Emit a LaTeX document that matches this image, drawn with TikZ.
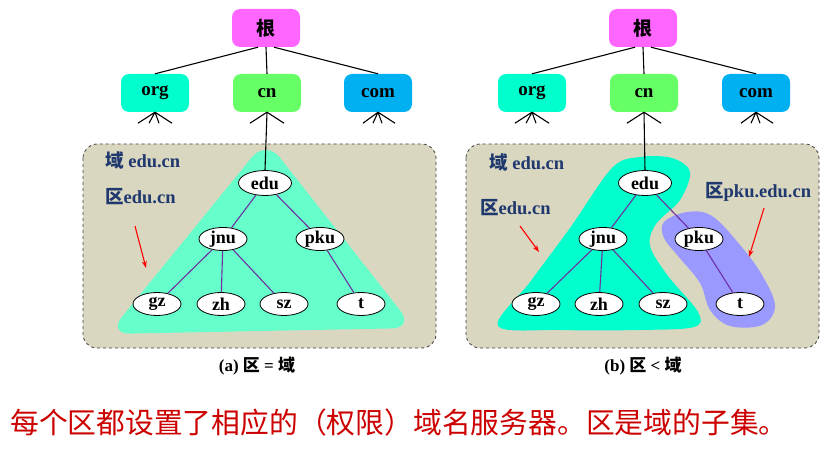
\documentclass[tikz,border=0pt]{standalone}
\usepackage{fontspec}
\setmainfont{Liberation Serif}
\newfontfamily\cjk{Noto Sans CJK SC}
\usetikzlibrary{shapes.geometric,arrows.meta}
\definecolor{rootc}{RGB}{255,102,255}
\definecolor{orgc}{RGB}{0,255,204}
\definecolor{cnc}{RGB}{102,255,102}
\definecolor{comc}{RGB}{0,176,240}
\definecolor{panel}{RGB}{218,215,192}
\definecolor{blobA}{RGB}{102,255,204}
\definecolor{blobB}{RGB}{0,255,204}
\definecolor{blobP}{RGB}{153,153,255}
\definecolor{edgec}{RGB}{112,48,160}
\definecolor{navy}{RGB}{31,56,110}
\definecolor{redt}{RGB}{204,0,0}
\tikzset{
  topbox/.style={rounded corners=8pt, minimum width=68pt, minimum height=38pt, inner sep=0pt, font=\fontsize{19}{19}\selectfont\bfseries},
  tn/.style={ellipse, draw=black, line width=0.8pt, fill=white, minimum width=48pt, minimum height=23pt, inner sep=0pt, font=\fontsize{18}{18}\selectfont\bfseries},
  tedge/.style={draw=edgec, line width=1.1pt},
  blk/.style={draw=black, line width=1.1pt},
  panelbox/.style={draw=black!75, dashed, line width=0.8pt, fill=panel, rounded corners=14pt},
  lbl/.style={text=navy, font=\fontsize{18.5}{18.5}\selectfont\bfseries, inner sep=0pt},
  redarr/.style={draw=red, line width=1.1pt, -{Stealth[length=7pt,width=5pt]}},
  captxt/.style={font=\fontsize{17}{17}\selectfont\bfseries, inner sep=0pt}
}
\begin{document}
\begin{tikzpicture}[x=1pt,y=-1pt]
\useasboundingbox (0,0) rectangle (830,457);

% ================= panel (a) =================
\begin{scope}
\draw[panelbox] (83,144) rectangle (436,348);
\fill[blobA, rounded corners=22pt] (266,140) -- (108,334) -- (414,328) -- cycle;
\node[topbox, fill=rootc] (rootA) at (266,28) {\cjk\bfseries 根};
\node[topbox, fill=orgc] (orgA) at (155,93) {org};
\node[topbox, fill=cnc] (cnA) at (267,93) {cn};
\node[topbox, fill=comc] (comA) at (378,93) {com};
\draw[blk] ([xshift=-8pt]rootA.south) -- (orgA.north);
\draw[blk] (rootA.south) -- (cnA.north);
\draw[blk] ([xshift=8pt]rootA.south) -- (comA.north);
\draw[blk] (orgA.south) -- ++(-17,11) (orgA.south) -- ++(-6,11) (orgA.south) -- ++(4,11) (orgA.south) -- ++(17,11);
\draw[blk] (comA.south) -- ++(-15,11) (comA.south) -- ++(-5,11) (comA.south) -- ++(4,11) (comA.south) -- ++(17,11);
\draw[blk] (cnA.south) -- ++(-17,11) (cnA.south) -- ++(17,11);
\node[tn, minimum width=53pt, minimum height=25pt] (eduA) at (265,183) {edu};
\node[tn] (jnuA) at (223,239) {jnu};
\node[tn] (pkuA) at (320,239) {pku};
\node[tn] (gzA) at (157,304) {gz};
\node[tn] (zhA) at (221,304) {zh};
\node[tn] (szA) at (284,304) {sz};
\node[tn] (tA) at (361,304) {t};
\draw[blk] (cnA.south) -- (eduA.north);
\draw[tedge] (eduA) -- (jnuA);
\draw[tedge] (eduA) -- (pkuA);
\draw[tedge] (jnuA) -- (gzA);
\draw[tedge] (jnuA) -- (zhA);
\draw[tedge] (jnuA) -- (szA);
\draw[tedge] (pkuA) -- (tA);
\node[lbl, anchor=west] (domA) at (105,160) {{\cjk\bfseries 域} edu.cn};
\node[lbl, anchor=west] (zoneA) at (105,197) {{\cjk\bfseries 区}edu.cn};
\coordinate (a1s) at (135,226);
\coordinate (a1e) at (146,268);
\draw[redarr] (a1s) -- (a1e);
\node[captxt] (capA) at (257,366) {(a) {\cjk\bfseries 区} = {\cjk\bfseries 域}};
\end{scope}

% ================= panel (b) =================
\begin{scope}
\draw[panelbox] (466,144) rectangle (819,348);
\fill[blobB] plot[smooth cycle, tension=0.55] coordinates {
 (498,326) (530,282) (570,228) (612,168) (640,157) (672,158) (690,172)
 (680,200) (656,224) (650,246) (668,276) (698,312) (694,327) (640,330) (560,330)};
\fill[blobP] plot[smooth cycle, tension=0.6] coordinates {
 (664,222) (687,212) (712,216) (740,245) (762,275) (775,306) (762,325)
 (730,326) (710,310) (700,283) (678,256) (664,238)};
\node[topbox, fill=rootc] (rootB) at (643,28) {\cjk\bfseries 根};
\node[topbox, fill=orgc] (orgB) at (532,93) {org};
\node[topbox, fill=cnc] (cnB) at (644,93) {cn};
\node[topbox, fill=comc] (comB) at (756,93) {com};
\draw[blk] ([xshift=-8pt]rootB.south) -- (orgB.north);
\draw[blk] (rootB.south) -- (cnB.north);
\draw[blk] ([xshift=8pt]rootB.south) -- (comB.north);
\draw[blk] (orgB.south) -- ++(-17,11) (orgB.south) -- ++(-6,11) (orgB.south) -- ++(4,11) (orgB.south) -- ++(17,11);
\draw[blk] (comB.south) -- ++(-15,11) (comB.south) -- ++(-5,11) (comB.south) -- ++(4,11) (comB.south) -- ++(17,11);
\draw[blk] (cnB.south) -- ++(-17,11) (cnB.south) -- ++(17,11);
\node[tn, minimum width=53pt, minimum height=25pt] (eduB) at (645,183) {edu};
\node[tn] (jnuB) at (603,239) {jnu};
\node[tn] (pkuB) at (699,239) {pku};
\node[tn] (gzB) at (536,304) {gz};
\node[tn] (zhB) at (599,304) {zh};
\node[tn] (szB) at (663,304) {sz};
\node[tn] (tB) at (740,304) {t};
\draw[blk] (cnB.south) -- (eduB.north);
\draw[tedge] (eduB) -- (jnuB);
\draw[tedge] (eduB) -- (pkuB);
\draw[tedge] (jnuB) -- (gzB);
\draw[tedge] (jnuB) -- (zhB);
\draw[tedge] (jnuB) -- (szB);
\draw[tedge] (pkuB) -- (tB);
\node[lbl, anchor=west] (domB) at (489,162) {{\cjk\bfseries 域} edu.cn};
\node[lbl, anchor=west] (zoneB) at (480,208) {{\cjk\bfseries 区}edu.cn};
\node[lbl, anchor=west] (zoneP) at (705,192) {{\cjk\bfseries 区}pku.edu.cn};
\coordinate (b1s) at (520,226);
\coordinate (b1e) at (539,252);
\draw[redarr] (b1s) -- (b1e);
\coordinate (b2s) at (764,208);
\coordinate (b2e) at (749,257);
\draw[redarr] (b2s) -- (b2e);
\node[captxt] (capB) at (643,366) {(b) {\cjk\bfseries 区} < {\cjk\bfseries 域}};
\end{scope}

\node[anchor=west, inner sep=0pt, text=redt, font=\cjk\fontsize{28.8}{28.8}\selectfont] (note) at (10,423) {每个区都设置了相应的（权限）域名服务器。区是域的子集。};
\end{tikzpicture}
\end{document}
